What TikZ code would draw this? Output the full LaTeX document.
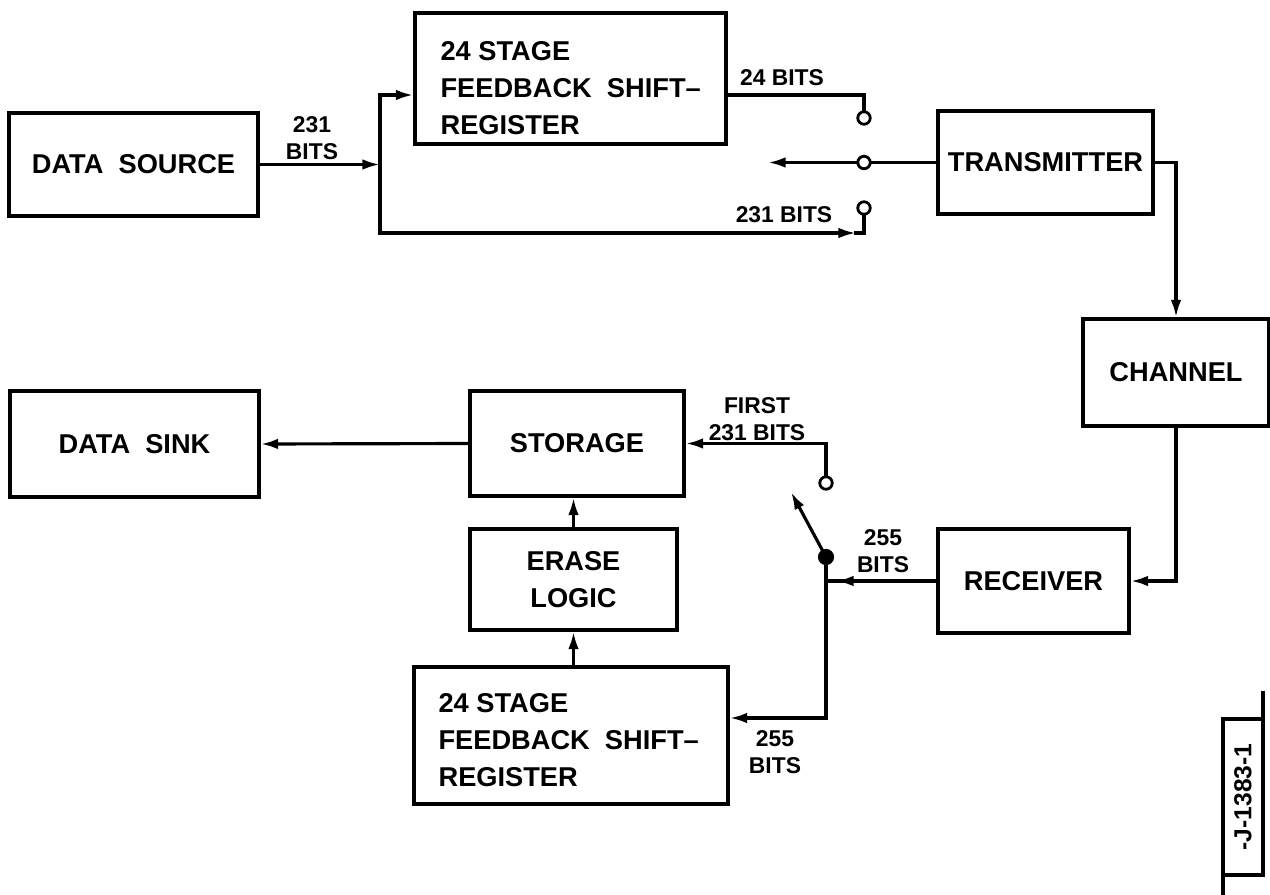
\documentclass[tikz,border=0pt]{standalone}
\usepackage{fontspec}
\setmainfont{Liberation Sans}
\usetikzlibrary{arrows.meta}
\begin{document}
\begin{tikzpicture}[x=0.02cm,y=-0.02cm,
  every path/.style={line width=1.8pt,line cap=rect},
  arr/.style={-{Latex[length=10pt,width=6pt]}},
  blk/.style={draw,line width=1.8pt,inner sep=0pt,font=\fontsize{15.5}{21}\selectfont\bfseries},
  lbl/.style={inner sep=0pt,font=\fontsize{13}{15}\selectfont\bfseries,align=center},
  contact/.style={circle,draw,fill=white,line width=1.6pt,inner sep=0pt,minimum size=0.25cm},
  pivot/.style={circle,draw,fill=black,inner sep=0pt,minimum size=0.26cm}]
\useasboundingbox (0,0) rectangle (1270,895);
% boxes
\node[blk,minimum width=4.98cm,minimum height=2.06cm] (src) at (133.5,164.5) {DATA~~SOURCE};
\node[blk,minimum width=6.22cm,minimum height=2.62cm] (sr1) at (570.5,78.5) {};
\node[lbl,anchor=west,align=left,font=\fontsize{15.5}{21}\selectfont\bfseries] (sr1t) at (439,88) {24 STAGE\\FEEDBACK~~SHIFT--\\REGISTER};
\node[blk,minimum width=4.30cm,minimum height=2.06cm] (tx) at (1045.5,162.5) {TRANSMITTER};
\node[blk,minimum width=3.72cm,minimum height=2.14cm] (ch) at (1176,372.5) {CHANNEL};
\node[blk,minimum width=3.82cm,minimum height=2.08cm] (rx) at (1033.5,581) {RECEIVER};
\node[blk,minimum width=4.98cm,minimum height=2.12cm] (sink) at (134.5,444) {DATA~~SINK};
\node[blk,minimum width=4.28cm,minimum height=2.10cm] (st) at (577,443.5) {STORAGE};
\node[blk,minimum width=4.14cm,minimum height=2.02cm,align=center,font=\fontsize{15.5}{21}\selectfont\bfseries] (er) at (573.5,579.5) {ERASE\\LOGIC};
\node[blk,minimum width=6.28cm,minimum height=2.74cm] (sr2) at (571,735.5) {};
\node[lbl,anchor=west,align=left,font=\fontsize{15.5}{21}\selectfont\bfseries] (sr2t) at (437,740) {24 STAGE\\FEEDBACK~~SHIFT--\\REGISTER};
% switch contacts
\node[contact] (c1) at (864,118) {};
\node[contact] (c2) at (864,162.5) {};
\node[contact] (c3) at (864,208) {};
\node[contact] (d1) at (826,483) {};
\node[pivot] (dot) at (826,557) {};
% coordinates
\coordinate (jt) at (380,95);
\coordinate (jm) at (380,164.5);
\coordinate (jb) at (380,233);
\coordinate (o1) at (726,95);
\coordinate (a3) at (856,233);
\coordinate (l1) at (768,162.5);
\coordinate (a8) at (836,581);
\coordinate (arm) at (791,492);
\coordinate (b1) at (826,718);
% top connectors
\draw[arr] (src.east) -- (jm);
\draw (jt) -- (jb);
\draw[arr] (jt) -- (jt -| sr1.west);
\draw[arr] (jb) -- (a3);
\draw (a3) -- (c3 |- jb) -- (c3.south);
\draw (o1) -- (c1 |- o1) -- (c1.north);
\draw (tx.west) -- (c2.east);
\draw[arr] (c2.west) -- (l1);
\draw[arr] (tx.east) -| (ch.north);
\draw[arr] (ch.south) |- (rx.east);
% bottom connectors
\draw (rx.west) -- (rx.west -| dot);
\draw[arr] (rx.west) -- (a8);
\draw (dot.center) -- (b1);
\draw[arr] (b1) -- (b1 -| sr2.east);
\draw[arr] (dot.center) -- (arm);
\draw[arr] (d1.north) |- (st.east);
\draw[arr] (st.west) -- (sink.east);
\draw[arr] (er.north) -- (er.north |- st.south);
\draw[arr] (er.south |- sr2.north) -- (er.south);
% labels
\node[lbl] (l231a) at (312,138) {231\\BITS};
\node[lbl] (l24) at (782,78) {24 BITS};
\node[lbl] (l231b) at (784,215) {231 BITS};
\node[lbl] (lfirst) at (757,419) {FIRST\\231 BITS};
\node[lbl] (l255a) at (883,551) {255\\BITS};
\node[lbl] (l255b) at (775,752) {255\\BITS};
% drawing number
\draw (1263,693) -- (1263,719);
\draw (1223,875) -- (1223,895);
\node[draw,line width=1.8pt,minimum width=0.8cm,minimum height=3.12cm,inner sep=0pt] (num) at (1243,797) {};
\node[rotate=90,inner sep=0pt,font=\fontsize{14}{16}\selectfont\bfseries] (numt) at (1243,797) {-J-1383-1};
\end{tikzpicture}
\end{document}
